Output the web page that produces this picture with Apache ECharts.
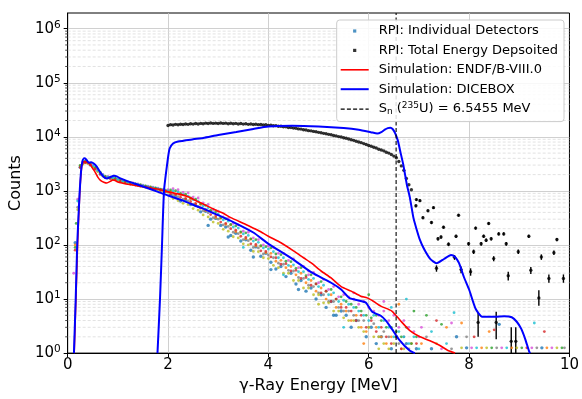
<!DOCTYPE html>
<html>
<head>
<meta charset="utf-8">
<script src="https://cdn.jsdelivr.net/npm/echarts@6/dist/echarts.min.js"></script>
<style>
  html, body { margin: 0; padding: 0; background: #fff; }
  #chart { width: 582px; height: 399px; }
</style>
</head>
<body>
<div id="chart"></div>
<script>
var FONT = 'DejaVu Sans';

// energy bins of the individual detector spectra (MeV), two binnings
var detEa = [0.15, 0.25, 0.35, 0.45, 0.55, 0.65, 0.75, 0.85, 0.95, 1.05, 1.15, 1.25, 1.35, 1.45, 1.55, 1.65, 1.75, 1.85, 1.95,
  2.05, 2.15, 2.25, 2.35, 2.45, 2.55, 2.65, 2.75, 2.85, 2.95, 3.05, 3.15, 3.25, 3.35, 3.45, 3.55, 3.65, 3.75, 3.85, 3.95,
  4.05, 4.15, 4.25, 4.35, 4.45, 4.55, 4.65, 4.75, 4.85, 4.95, 5.05, 5.15, 5.25, 5.35, 5.45,
  5.55, 5.65, 5.75, 5.85, 5.95, 6.05, 6.15, 6.25, 6.35, 6.45, 6.55, 6.65, 6.75, 6.85, 6.95];
var detEb = [0.20, 0.30, 0.40, 0.50, 0.60, 0.70, 0.80, 0.90, 1.00, 1.10, 1.20, 1.30, 1.40, 1.50, 1.60, 1.70, 1.80, 1.90, 2.00,
  2.10, 2.20, 2.30, 2.40, 2.50, 2.60, 2.70, 2.80, 2.90, 3.00, 3.10, 3.20, 3.30, 3.40, 3.50, 3.60, 3.70, 3.80, 3.90, 4.00,
  4.10, 4.20, 4.30, 4.40, 4.50, 4.60, 4.70, 4.80, 4.90, 5.00, 5.10, 5.20, 5.30, 5.40, 5.50,
  5.60, 5.70, 5.80, 5.90, 6.00, 6.10, 6.20, 6.30, 6.40, 6.50, 6.60, 6.70, 6.80, 6.90, 7.00];

// counts per detector (null = empty bin); det0-3 on detEa, det4-7 on detEb
var det0 = [110, 2750, 3450, 3050, 2650, 2050, 1820, 1720, 1680, 1530, 1470, 1360, 1330, 1250, 1210, 1140, 1110, 1040, 960,
  830, 790, 650, 680, 560, 540, 410, 420, 300, 310, 230, 215, 150, 165, 118, 125, 80, 92, 62, 70,
  48, 36, 40, 26, 30, 19, 22, 14, 16, 10, 12, 7, 9, 5, 6,
  5, 3, 4, null, 2, 3, 1.5, 2, null, 1.2, 2, null, 1.5, null, 1.2];
var det1 = [100, 2900, 3350, 3150, 2550, 2150, 1780, 1780, 1620, 1580, 1430, 1400, 1300, 1280, 1190, 1170, 1080, 1060, 980,
  980, 860, 840, 720, 700, 570, 560, 430, 420, 320, 310, 240, 235, 175, 170, 130, 128, 96, 95, 72,
  70, 50, 52, 38, 40, 28, 30, 20, 22, 14, 16, 10, 12, 7, 8,
  6, 4, 5, 3, 2.5, null, 3, 2, 1.5, 2, null, 1.2, null, 1.5, null];
var det2 = [90, 2950, 3500, 3200, 2700, 2200, 1850, 1800, 1700, 1600, 1500, 1420, 1350, 1300, 1240, 1180, 1130, 1080, 1030,
  1040, 1010, 900, 870, 740, 700, 580, 540, 440, 410, 320, 305, 240, 225, 175, 168, 130, 125, 97, 93,
  88, 68, 66, 50, 49, 37, 38, 27, 28, 19, 21, 14, 15, 10, 11,
  9, 8, 7, 6, 5, 4.5, 5, 4, 3, 3, 2.5, 2, 3, 1.5, 2];
var det3 = [80, 2700, 3300, 3000, 2500, 2050, 1760, 1700, 1600, 1500, 1420, 1340, 1280, 1220, 1170, 1120, 1070, 1020, 975,
  880, 860, 760, 720, 630, 585, 480, 450, 365, 345, 265, 250, 200, 188, 145, 138, 105, 102, 78, 76,
  60, 58, 44, 45, 33, 34, 24, 25, 18, 19, 13, 14, 9, 10, 7,
  7, 6, 4, 5, 3, 4, 2.5, 3, 2, 1.5, 2, 1.2, null, null, 1.5];
var det4 = [700, 3450, 3400, 2950, 2450, 2020, 1850, 1770, 1660, 1560, 1470, 1400, 1340, 1280, 1220, 1170, 1120, 1070, 1050,
  1100, 1050, 940, 920, 770, 740, 600, 560, 450, 420, 330, 310, 250, 235, 180, 172, 135, 125, 100, 95,
  90, 70, 70, 52, 55, 38, 40, 28, 31, 20, 23, 15, 17, 11, 12,
  11, 10, 8, 9, 7, 6, 5, 6, 4, 5, 3, 4, 3, 2.5, 2];
var det5 = [500, 3200, 3250, 2800, 2320, 1920, 1760, 1690, 1580, 1490, 1400, 1340, 1280, 1220, 1165, 1115, 1065, 1020, 965,
  840, 780, 700, 650, 560, 515, 430, 395, 320, 300, 235, 220, 172, 162, 125, 120, 90, 88, 68, 65,
  58, 46, 44, 34, 33, 25, 24, 18, 17, 13, 12, 9, 9, 7, 6,
  6, 5, 4, 4, 3, 3.5, 2, 2.5, 2, null, 1.5, 2, 1.2, null, null];
var det6 = [450, 3100, 3200, 2750, 2280, 1890, 1730, 1650, 1550, 1455, 1370, 1310, 1250, 1195, 1140, 1090, 1040, 995, 940,
  720, 660, 590, 560, 470, 440, 360, 330, 265, 250, 195, 180, 142, 135, 105, 100, 76, 75, 58, 56,
  42, 38, 30, 30, 22, 22, 16, 16, 12, 12, 8.5, 8.5, 6, 6, 4.5,
  4, 4, 3, 2.5, 3, 2, 2, 1.5, 1.2, 1.5, null, 1.2, null, null, null];
var det7 = [650, 3350, 3380, 2900, 2400, 1980, 1800, 1730, 1630, 1530, 1440, 1375, 1315, 1250, 1195, 1145, 1095, 1045, 995,
  1000, 950, 850, 800, 690, 640, 530, 490, 395, 370, 290, 275, 215, 205, 160, 150, 118, 112, 88, 84,
  75, 58, 58, 42, 43, 32, 32, 23, 24, 17, 18, 12, 13, 9, 9.5,
  8, 7, 6, 5, 4, 5, 3, 4, 3, 2, 2.5, 2, 1.5, 2, 1.2];
var detColors = ['#1f77b4', '#ff7f0e', '#2ca02c', '#d62728', '#d84fd8', '#7f7f7f', '#bcbd22', '#17becf'];

// extra scattered detector points (outliers and the sparse high-energy tail): [E, counts, detector]
var detExtra = [[0.12, 30, 4], [0.17, 250, 2], [2.8, 230, 0], [3.2, 140, 0], [3.5, 90, 7], [3.7, 60, 0], [4.05, 35, 0],
  [4.3, 28, 7], [4.6, 15, 0], [4.8, 33, 4], [5.0, 8, 6], [5.3, 5, 0], [5.5, 3, 7], [5.7, 13, 4], [5.9, 1.5, 1],
  [6.0, 12, 2], [6.2, 1.2, 6], [6.3, 9, 4], [6.45, 7, 7], [6.6, 8, 1], [6.75, 10, 7], [6.9, 6, 2],
  [7.05, 3, 4], [7.05, 1.5, 1], [7.15, 5, 2], [7.15, 2, 5], [7.25, 2.5, 7], [7.25, 1.2, 0], [7.35, 4, 3],
  [7.35, 1.5, 6], [7.45, 3.4, 2], [7.45, 1.2, 4], [7.55, 3, 1], [7.55, 1.5, 7], [7.65, 3.6, 4], [7.65, 1.2, 5],
  [7.7, 5.6, 7], [7.75, 2, 0], [7.85, 3.6, 1], [7.85, 1.25, 6], [7.95, 2, 5], [7.95, 1.25, 0], [8.05, 1.25, 4],
  [8.1, 2, 3], [8.15, 1.25, 7], [8.25, 1.25, 1], [8.35, 1.25, 6], [8.4, 2.5, 1], [8.45, 1.25, 2], [8.5, 2.7, 3],
  [8.55, 1.25, 5], [8.6, 3.4, 0], [8.65, 1.25, 4], [8.75, 1.25, 7], [8.85, 1.25, 1], [8.95, 1.25, 6], [9.05, 1.25, 2],
  [9.15, 1.25, 3], [9.25, 1.25, 4], [9.3, 3.6, 7], [9.35, 1.25, 5], [9.45, 1.25, 0], [9.5, 2.5, 3], [9.55, 1.25, 1],
  [9.65, 1.25, 4], [9.75, 1.25, 6], [9.85, 1.25, 2], [9.9, 1.25, 5]];

// total energy deposited (dense part)
var totalE = [2.00, 2.05, 2.10, 2.15, 2.20, 2.25, 2.30, 2.35, 2.40, 2.45, 2.50, 2.55, 2.60, 2.65, 2.70, 2.75, 2.80, 2.85, 2.90, 2.95,
  3.00, 3.05, 3.10, 3.15, 3.20, 3.25, 3.30, 3.35, 3.40, 3.45, 3.50, 3.55, 3.60, 3.65, 3.70, 3.75, 3.80, 3.85, 3.90, 3.95,
  4.00, 4.05, 4.10, 4.15, 4.20, 4.25, 4.30, 4.35, 4.40, 4.45, 4.50, 4.55, 4.60, 4.65, 4.70, 4.75, 4.80, 4.85, 4.90, 4.95,
  5.00, 5.05, 5.10, 5.15, 5.20, 5.25, 5.30, 5.35, 5.40, 5.45, 5.50, 5.55, 5.60, 5.65, 5.70, 5.75, 5.80, 5.85, 5.90, 5.95,
  6.00, 6.05, 6.10, 6.15, 6.20, 6.25, 6.30, 6.35, 6.40, 6.45, 6.50, 6.55, 6.60, 6.65, 6.70, 6.75, 6.80, 6.85];
var totalY = [16200, 16800, 16500, 17000, 16700, 17100, 16900, 17300, 17000, 17400, 17200, 17600, 17300, 17700, 17500, 17900, 17600, 18000, 17700, 17900,
  17600, 18000, 17700, 17900, 17500, 17800, 17400, 17700, 17300, 17600, 17200, 17400, 17000, 17300, 16900, 17100, 16800, 16900, 16500, 16700,
  16300, 16400, 16000, 16100, 15700, 15700, 15300, 15300, 14900, 14900, 14500, 14400, 14000, 13900, 13500, 13400, 13000, 12900, 12600, 12400,
  12100, 11900, 11600, 11400, 11100, 10900, 10600, 10400, 10100, 9900, 9600, 9400, 9100, 8800, 8600, 8300, 8000, 7800, 7500, 7200,
  6900, 6700, 6400, 6200, 5900, 5700, 5500, 5200, 5000, 4700, 4400, 4100, 3500, 2900, 2400, 1700, 1300, 1050];

// total energy deposited above Sn, with error bars
var tailE = [6.94, 6.95, 7.02, 7.08, 7.18, 7.25, 7.29, 7.35, 7.38, 7.44, 7.49, 7.59, 7.71, 7.74, 7.79, 7.84, 7.99, 8.03, 8.09, 8.13,
  8.18, 8.24, 8.29, 8.34, 8.39, 8.44, 8.49, 8.54, 8.59, 8.69, 8.74, 8.78, 8.84, 8.93, 8.98, 9.19, 9.23, 9.39, 9.44, 9.59, 9.69, 9.75, 9.88];
var tailY = [530, 690, 660, 320, 430, 260, 490, 37, 130, 140, 213, 103, 59, 145, 355, 35, 105, 32, 75, 205,
  3.7, 105, 145, 122, 250, 130, 56, 3.7, 160, 160, 105, 27, 1.65, 1.65, 75, 145, 34, 10.5, 60, 24, 72, 126, 24];
var tailLo = [500, 650, 620, 300, 405, 243, 462, 32, 121, 130, 200, 95, 53, 135, 335, 30, 97, 27, 68, 192,
  2.0, 97, 135, 113, 235, 121, 50, 1.8, 149, 149, 97, 22, 0.8, 0.8, 68, 135, 29, 7.5, 53, 20, 65, 117, 20];
var tailHi = [560, 730, 700, 340, 455, 277, 518, 42, 139, 150, 226, 111, 65, 155, 375, 40, 113, 37, 82, 218,
  5.6, 113, 155, 131, 265, 139, 62, 5.8, 171, 171, 113, 32, 3.0, 3.0, 82, 155, 39, 14.5, 67, 28.5, 79, 135, 28.5];

// simulations [E, counts]
var endfCurve = [[0.13, 1], [0.17, 15], [0.20, 120], [0.24, 900], [0.28, 2800], [0.32, 3500], [0.36, 3450], [0.40, 3300],
  [0.45, 3100], [0.50, 2600], [0.55, 2200], [0.60, 1800], [0.66, 1550], [0.72, 1450], [0.78, 1400], [0.85, 1500],
  [0.90, 1600], [0.95, 1550], [1.00, 1460], [1.10, 1390], [1.20, 1330], [1.40, 1240], [1.60, 1160], [1.80, 1080],
  [2.00, 960], [2.20, 880], [2.40, 780], [2.57, 650], [2.70, 570], [2.85, 490], [3.00, 420], [3.10, 385], [3.25, 320],
  [3.55, 240], [3.80, 185], [4.00, 145], [4.25, 110], [4.50, 78], [4.70, 58], [4.86, 46], [5.05, 33], [5.25, 24.5],
  [5.45, 17], [5.65, 14], [5.84, 11.3], [5.97, 10.5], [6.10, 9], [6.24, 7.4], [6.46, 6], [6.63, 4], [6.82, 2.6],
  [7.02, 2], [7.22, 1.7], [7.41, 1.4], [7.57, 1.13], [7.72, 1]];
var diceIndCurve = [[0.125, 1], [0.16, 10], [0.19, 100], [0.235, 800], [0.27, 2500], [0.30, 3700], [0.33, 4000], [0.37, 3800],
  [0.42, 3300], [0.47, 3400], [0.52, 3200], [0.58, 2800], [0.65, 2200], [0.72, 1800], [0.78, 1700], [0.85, 1800],
  [0.92, 1900], [0.98, 1850], [1.05, 1700], [1.20, 1500], [1.40, 1300], [1.60, 1120], [1.80, 960], [2.00, 820],
  [2.30, 660], [2.57, 520], [2.70, 470], [3.00, 355], [3.30, 265], [3.70, 170], [4.00, 105], [4.47, 56], [4.86, 31],
  [5.25, 20], [5.45, 15], [5.61, 10.5], [5.84, 9.2], [5.94, 8.6], [6.07, 5.8], [6.24, 4.9], [6.35, 3.9], [6.46, 2.8],
  [6.60, 1.8], [6.82, 1.1], [6.92, 1]];
var diceTotCurve = [[1.79, 1], [1.84, 10], [1.88, 100], [1.92, 1000], [1.98, 3000], [2.03, 6000], [2.10, 7500], [2.20, 8200],
  [2.50, 9000], [2.70, 9500], [3.00, 10800], [3.36, 12300], [3.70, 14000], [4.00, 15500], [4.47, 16000], [5.00, 15500],
  [5.50, 14500], [5.80, 13500], [6.04, 12200], [6.17, 11500], [6.25, 12200], [6.32, 13600], [6.38, 14500], [6.43, 14700],
  [6.48, 13800], [6.53, 11500], [6.58, 8500], [6.63, 5300], [6.69, 3000], [6.76, 1300], [6.82, 750], [6.89, 320], [6.95, 200],
  [7.02, 124], [7.10, 85], [7.22, 56], [7.35, 46], [7.50, 55], [7.64, 65], [7.72, 60], [7.80, 46], [7.90, 25],
  [8.00, 15], [8.13, 6.6], [8.26, 4.7], [8.52, 4.7], [8.70, 4.8], [8.85, 4.6], [8.95, 3.8], [9.04, 2.8], [9.12, 1.8],
  [9.20, 1.05], [9.22, 1]];

var snEnergy = 6.5455;
var yRange = [1, 1.95e6];
var yMinorTicks = [2, 3, 4, 5, 6, 7, 8, 9, 20, 30, 40, 50, 60, 70, 80, 90, 200, 300, 400, 500, 600, 700, 800, 900,
  2000, 3000, 4000, 5000, 6000, 7000, 8000, 9000, 2e4, 3e4, 4e4, 5e4, 6e4, 7e4, 8e4, 9e4,
  2e5, 3e5, 4e5, 5e5, 6e5, 7e5, 8e5, 9e5];

var NAME_DET = 'RPI: Individual Detectors';
var NAME_TOT = 'RPI: Total Energy Depsoited';
var NAME_ENDF = 'Simulation: ENDF/B-VIII.0';
var NAME_DICE = 'Simulation: DICEBOX';
var NAME_SN = 'Sn';

var chart = echarts.init(document.getElementById('chart'), null, { renderer: 'canvas' });

var series = [];

// minor log grid lines + minor ticks
series.push({
  type: 'custom',
  name: 'minor',
  silent: true,
  z: 1,
  data: yMinorTicks.map(function (v) { return [0, v]; }),
  renderItem: function (params, api) {
    var v = api.value(1);
    var a = api.coord([0, v]);
    var b = api.coord([10, v]);
    return {
      type: 'group',
      children: [
        { type: 'line', shape: { x1: a[0], y1: a[1], x2: b[0], y2: b[1] },
          style: { stroke: '#dadada', lineWidth: 0.8, lineDash: [3, 2] } },
        { type: 'line', shape: { x1: a[0] - 2.5, y1: a[1], x2: a[0], y2: a[1] },
          style: { stroke: '#000', lineWidth: 0.7 } }
      ]
    };
  }
});

var dets = [det0, det1, det2, det3, det4, det5, det6, det7];
dets.forEach(function (arr, i) {
  var grid = i < 4 ? detEa : detEb;
  var pts = [];
  arr.forEach(function (v, j) {
    if (v != null) pts.push([grid[j], v]);
  });
  detExtra.forEach(function (t) {
    if (t[2] === i) pts.push([t[0], t[1]]);
  });
  series.push({
    type: 'scatter',
    name: i === 0 ? NAME_DET : 'det' + i,
    symbol: 'circle',
    symbolSize: i === 0 ? 3.4 : 2.8,
    itemStyle: { color: detColors[i] },
    silent: true,
    data: pts
  });
});

var totPts = totalE.map(function (e, i) { return [e, totalY[i]]; })
  .concat(tailE.map(function (e, i) { return [e, tailY[i]]; }));
series.push({
  type: 'scatter',
  name: NAME_TOT,
  symbolSize: 3.4,
  itemStyle: { color: '#000' },
  silent: true,
  data: totPts
});

// error bars
series.push({
  type: 'custom',
  name: 'errbars',
  silent: true,
  clip: true,
  data: tailE.map(function (e, i) { return [e, tailLo[i], tailHi[i]]; }),
  encode: { x: 0, y: [1, 2] },
  renderItem: function (params, api) {
    var lo = api.coord([api.value(0), api.value(1)]);
    var hi = api.coord([api.value(0), api.value(2)]);
    return {
      type: 'line',
      shape: { x1: lo[0], y1: lo[1], x2: hi[0], y2: hi[1] },
      style: { stroke: '#000', lineWidth: 1.4 }
    };
  }
});

series.push({
  type: 'line', name: NAME_ENDF, data: endfCurve, symbol: 'none', smooth: 0.2,
  lineStyle: { color: '#ff0000', width: 1.6 }, itemStyle: { color: '#ff0000' }, silent: true
});
series.push({
  type: 'line', name: NAME_DICE, data: diceIndCurve, symbol: 'none', smooth: 0.2,
  lineStyle: { color: '#0000ff', width: 2 }, itemStyle: { color: '#0000ff' }, silent: true
});
series.push({
  type: 'line', name: NAME_DICE, data: diceTotCurve, symbol: 'none', smooth: 0.2,
  lineStyle: { color: '#0000ff', width: 2 }, itemStyle: { color: '#0000ff' }, silent: true
});
series.push({
  type: 'line', name: NAME_SN, data: [[snEnergy, yRange[0]], [snEnergy, yRange[1]]], symbol: 'none',
  lineStyle: { color: '#000', width: 1.1, type: [4, 2.5] }, itemStyle: { color: '#000' }, silent: true
});

// legend icons drawn in a 28x14 box
var dotIcon = 'path://M0,0M28,14M12.4,5.4L15.6,5.4L15.6,8.6L12.4,8.6Z';
var redIcon = 'path://M0,0M28,14M0,6.2L28,6.2L28,7.8L0,7.8Z';
var blueIcon = 'path://M0,0M28,14M0,6L28,6L28,8L0,8Z';
var dashIcon = 'path://M0,0M28,14M0,6.45L4,6.45L4,7.55L0,7.55Z' +
  'M6.2,6.45L10.2,6.45L10.2,7.55L6.2,7.55Z' +
  'M12.4,6.45L16.4,6.45L16.4,7.55L12.4,7.55Z' +
  'M18.6,6.45L22.6,6.45L22.6,7.55L18.6,7.55Z' +
  'M24.8,6.45L28,6.45L28,7.55L24.8,7.55Z';

var option = {
  animation: false,
  backgroundColor: '#fff',
  textStyle: { fontFamily: FONT },
  grid: { left: 62, right: 10, top: 13, bottom: 41, show: true, borderColor: '#000', borderWidth: 1, backgroundColor: 'transparent' },
  legend: {
    orient: 'vertical',
    right: 18,
    top: 20,
    padding: [4, 6, 5, 4],
    itemWidth: 28,
    itemHeight: 14,
    itemGap: 5.4,
    backgroundColor: 'rgba(255,255,255,0.85)',
    borderColor: '#cccccc',
    borderWidth: 1,
    borderRadius: 3,
    data: [
      { name: NAME_DET, icon: dotIcon, itemStyle: { color: '#1f77b4' } },
      { name: NAME_TOT, icon: dotIcon, itemStyle: { color: '#000' } },
      { name: NAME_ENDF, icon: redIcon, itemStyle: { color: '#ff0000' } },
      { name: NAME_DICE, icon: blueIcon, itemStyle: { color: '#0000ff' } },
      { name: NAME_SN, icon: dashIcon, itemStyle: { color: '#000' } }
    ],
    formatter: function (name) {
      if (name === NAME_SN) {
        return '{t|S}{sub|n}{t| (}{sup|235}{t|U) = 6.5455 MeV}';
      }
      return '{t|' + name + '}';
    },
    textStyle: {
      color: '#000',
      fontFamily: FONT,
      fontSize: 13,
      padding: [0, 0, 0, 5],
      rich: {
        t: { fontSize: 13, fontFamily: FONT, color: '#000', lineHeight: 15 },
        sub: { fontSize: 9, fontFamily: FONT, color: '#000', lineHeight: 9, verticalAlign: 'bottom' },
        sup: { fontSize: 9, fontFamily: FONT, color: '#000', lineHeight: 9, verticalAlign: 'top' }
      }
    }
  },
  xAxis: {
    type: 'value',
    min: 0,
    max: 10,
    interval: 2,
    name: 'γ-Ray Energy [MeV]',
    nameLocation: 'middle',
    nameGap: 19,
    nameTextStyle: { fontSize: 16, color: '#000', fontFamily: FONT, verticalAlign: 'top' },
    axisLine: { show: true, onZero: false, lineStyle: { color: '#000', width: 1 } },
    axisTick: { show: true, length: 4, lineStyle: { color: '#000' } },
    axisLabel: { fontSize: 15, color: '#000', margin: 5, fontFamily: FONT },
    splitLine: { show: true, showMinLine: false, showMaxLine: false, lineStyle: { color: '#c4c4c4', width: 0.8 } }
  },
  yAxis: {
    type: 'log',
    logBase: 10,
    min: yRange[0],
    max: yRange[1],
    name: 'Counts',
    nameLocation: 'middle',
    nameGap: 34,
    nameTextStyle: { fontSize: 16, color: '#000', fontFamily: FONT },
    axisLine: { show: true, lineStyle: { color: '#000', width: 1 } },
    axisTick: { show: true, length: 4, lineStyle: { color: '#000' } },
    axisLabel: {
      margin: 7,
      showMaxLabel: false,
      formatter: function (v) {
        var lg = Math.log10(v);
        var ex = Math.round(lg);
        if (Math.abs(lg - ex) > 0.01) return '';
        return '{b|10}{s|' + ex + '}';
      },
      rich: {
        b: { fontSize: 15, color: '#000', fontFamily: FONT, lineHeight: 18 },
        s: { fontSize: 10.5, color: '#000', fontFamily: FONT, lineHeight: 12, verticalAlign: 'top' }
      }
    },
    splitLine: { show: true, showMinLine: false, showMaxLine: false, lineStyle: { color: '#c4c4c4', width: 0.8 } }
  },
  series: series
};

chart.setOption(option);
</script>
</body>
</html>
